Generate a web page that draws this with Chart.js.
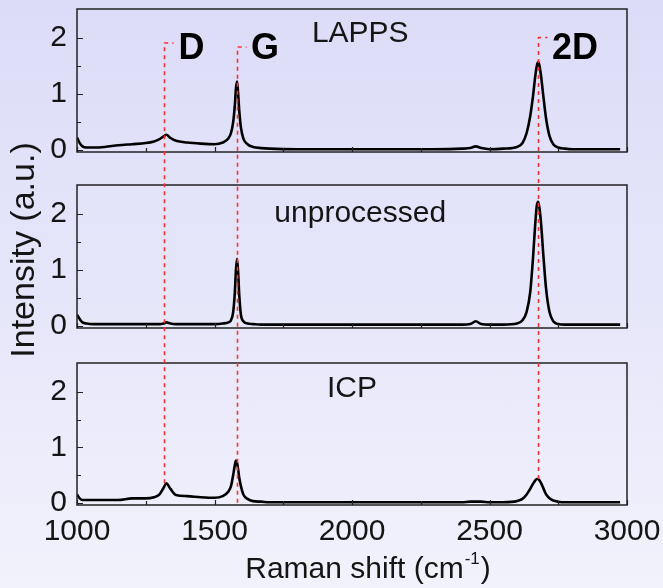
<!DOCTYPE html>
<html>
<head>
<meta charset="utf-8">
<script src="https://cdn.jsdelivr.net/npm/chart.js@4.4.1/dist/chart.umd.min.js"></script>
<style>
  html, body { margin: 0; padding: 0; }
  #wrap {
    position: relative; width: 663px; height: 588px; overflow: hidden;
    background: linear-gradient(to bottom, #dcdcf8 0%, #e6e6fa 50%, #f2f2fc 100%);
  }
  #wrap canvas { position: absolute; left: 0; }
</style>
</head>
<body>
<div id="wrap">
  <canvas id="p0" width="663" height="165" style="top:0px"></canvas>
  <canvas id="p1" width="663" height="165" style="top:176px"></canvas>
  <canvas id="p2" width="663" height="234" style="top:354px"></canvas>
  <canvas id="overlay" width="663" height="588" style="top:0px"></canvas>
</div>
<script>
// Raman shift sampling points (cm-1), denser around the D, G and 2D bands
const shift = [1000, 1010, 1020, 1035, 1060, 1100, 1150, 1200, 1250, 1280,
               1300, 1315, 1325, 1340, 1360, 1400, 1450, 1500, 1530, 1550,
               1560, 1568, 1574, 1578, 1582, 1586, 1590, 1596, 1605, 1620,
               1640, 1670, 1700, 1800, 1900, 2000, 2100, 2200, 2300, 2400,
               2430, 2450, 2470, 2500, 2550, 2600, 2620, 2635, 2648, 2658,
               2666, 2672, 2677, 2682, 2688, 2696, 2706, 2718, 2732, 2750,
               2775, 2800, 2900, 2975];

// Intensities (a.u.) for each sample
const lapps = [0.22, 0.12, 0.06, 0.04, 0.04, 0.05, 0.08, 0.10, 0.12, 0.15,
               0.19, 0.24, 0.27, 0.21, 0.16, 0.13, 0.11, 0.10, 0.13, 0.20,
               0.30, 0.50, 0.80, 1.10, 1.22, 1.00, 0.70, 0.40, 0.20, 0.10,
               0.05, 0.03, 0.02, 0.01, 0.01, 0.01, 0.01, 0.01, 0.01, 0.02,
               0.03, 0.06, 0.03, 0.01, 0.02, 0.05, 0.12, 0.30, 0.60, 0.95,
               1.30, 1.50, 1.57, 1.50, 1.30, 0.95, 0.55, 0.25, 0.10, 0.04,
               0.02, 0.01, 0.01, 0.01];

const unprocessed = [0.20, 0.12, 0.06, 0.04, 0.03, 0.03, 0.03, 0.03, 0.03, 0.03,
                     0.03, 0.04, 0.06, 0.04, 0.03, 0.03, 0.03, 0.03, 0.04, 0.06,
                     0.10, 0.25, 0.60, 1.00, 1.20, 0.95, 0.55, 0.20, 0.08, 0.04,
                     0.03, 0.02, 0.02, 0.02, 0.02, 0.02, 0.02, 0.02, 0.02, 0.02,
                     0.03, 0.08, 0.03, 0.02, 0.02, 0.04, 0.10, 0.25, 0.60, 1.20,
                     1.80, 2.15, 2.22, 2.10, 1.80, 1.25, 0.65, 0.25, 0.08, 0.03,
                     0.02, 0.02, 0.02, 0.02];

const icp = [0.15, 0.08, 0.05, 0.05, 0.05, 0.05, 0.05, 0.08, 0.08, 0.10,
             0.15, 0.27, 0.35, 0.25, 0.14, 0.12, 0.10, 0.09, 0.12, 0.20,
             0.30, 0.50, 0.68, 0.76, 0.72, 0.60, 0.45, 0.30, 0.15, 0.07,
             0.03, 0.02, 0.01, 0.01, 0.01, 0.01, 0.01, 0.01, 0.01, 0.01,
             0.02, 0.02, 0.02, 0.01, 0.01, 0.03, 0.07, 0.15, 0.25, 0.34,
             0.40, 0.43, 0.43, 0.40, 0.35, 0.26, 0.15, 0.08, 0.04, 0.02,
             0.01, 0.01, 0.01, 0.01];

const series = [lapps, unprocessed, icp];
const panelLabels = ['LAPPS', 'unprocessed', 'ICP'];
const panelLabelShift = [2030, 2030, 2000];   // where each sample name sits (cm-1)
const panelLabelLevel = [2.08, 2.00, 2.05];   // and at which intensity

const xTickValues = [1000, 1500, 2000, 2500, 3000];
const xMinorValues = [1250, 1750, 2250, 2750];
const yTickValues = [0, 0.5, 1, 1.5, 2];

// Band assignments marked across all three spectra
const bandNames = ['D', 'G', '2D'];
const bandShift = [1318, 1582, 2676];
const bandMarkTop = [1.91, 1.84, 2.01];     // top of the marker in the LAPPS panel
const bandMarkBottom = [0.35, 0.0, 0.43];   // end of the marker in the ICP panel

const FONT = "'Liberation Sans', Arial, sans-serif";
const INK = '#151515';

const framePlugin = {
  id: 'frame',
  afterDatasetsDraw(chart, args, opts) {
    const { ctx, chartArea: a, scales: { x, y } } = chart;
    ctx.save();
    ctx.strokeStyle = '#222';
    ctx.lineWidth = 1.5;
    ctx.strokeRect(a.left, a.top, a.right - a.left, a.bottom - a.top);
    ctx.beginPath();
    yTickValues.forEach(v => {
      const py = Math.round(y.getPixelForValue(v)) + 0.5;
      const len = Number.isInteger(v) ? 6 : 4;
      ctx.moveTo(a.left, py); ctx.lineTo(a.left + len, py);
    });
    xTickValues.concat(xMinorValues).forEach(v => {
      const px = Math.round(x.getPixelForValue(v)) + 0.5;
      const len = xTickValues.includes(v) ? 5 : 4;
      ctx.moveTo(px, a.bottom); ctx.lineTo(px, a.bottom - len);
    });
    ctx.lineWidth = 1.2;
    ctx.stroke();
    // sample name
    ctx.fillStyle = INK;
    ctx.font = '30px ' + FONT;
    ctx.textAlign = 'center';
    ctx.textBaseline = 'middle';
    ctx.fillText(opts.label, x.getPixelForValue(opts.labelX), y.getPixelForValue(opts.labelY));
    // x-axis title on the bottom panel
    if (opts.showTitle) {
      const cx = (a.left + a.right) / 2 + 16;
      const base = a.bottom + 73;
      ctx.textAlign = 'left';
      ctx.textBaseline = 'alphabetic';
      const main = 'Raman shift (cm';
      ctx.font = '30px ' + FONT;
      const w1 = ctx.measureText(main).width;
      ctx.font = '17px ' + FONT;
      const w2 = ctx.measureText('-1').width;
      ctx.font = '30px ' + FONT;
      const w3 = ctx.measureText(')').width;
      const start = cx - (w1 + w2 + w3 + 2) / 2;
      ctx.fillText(main, start, base);
      ctx.font = '17px ' + FONT;
      ctx.fillText('-1', start + w1 + 1, base - 14);
      ctx.font = '30px ' + FONT;
      ctx.fillText(')', start + w1 + w2 + 2, base);
    }
    ctx.restore();
  }
};

function makePanel(i) {
  const last = i === 2;
  const canvas = document.getElementById('p' + i);
  return new Chart(canvas, {
    type: 'line',
    data: {
      datasets: [{
        data: shift.map((s, k) => ({ x: s, y: series[i][k] })),
        borderColor: '#000',
        borderWidth: 2.6,
        pointRadius: 0,
        cubicInterpolationMode: 'monotone',
        fill: false
      }]
    },
    options: {
      responsive: false,
      animation: false,
      events: [],
      layout: { padding: { top: 9, right: 36, left: 0, bottom: last ? 0 : 13 } },
      plugins: {
        legend: { display: false },
        tooltip: { enabled: false },
        frame: { label: panelLabels[i], labelX: panelLabelShift[i], labelY: panelLabelLevel[i], showTitle: last }
      },
      scales: {
        x: {
          type: 'linear',
          min: 1000, max: 3000,
          display: last,
          afterBuildTicks: s => { s.ticks = xTickValues.map(v => ({ value: v })); },
          afterFit: s => {
            if (last) s.height = 83;
            s.paddingLeft = 0; s.paddingRight = 0;
          },
          grid: { display: true, drawOnChartArea: false, drawTicks: false },
          border: { display: false },
          ticks: {
            color: INK, font: { family: FONT, size: 30 }, padding: 9,
            maxRotation: 0, autoSkip: false, callback: v => String(v)
          }
        },
        y: {
          type: 'linear',
          min: -0.04, max: 2.52,
          afterBuildTicks: s => { s.ticks = yTickValues.map(v => ({ value: v })); },
          afterFit: s => { s.width = 77; s.paddingTop = 0; s.paddingBottom = 0; },
          grid: { display: true, drawOnChartArea: false, drawTicks: false },
          border: { display: false },
          ticks: {
            color: INK, font: { family: FONT, size: 30 }, padding: 10, autoSkip: false,
            callback: v => Number.isInteger(v) ? String(v) : ''
          }
        }
      }
    },
    plugins: [framePlugin]
  });
}

const charts = [0, 1, 2].map(makePanel);
const tops = [0, 176, 354];

// Band markers and the shared y-axis title
function drawOverlay() {
  const ctx = document.getElementById('overlay').getContext('2d');
  ctx.clearRect(0, 0, 663, 588);
  const top = charts[0], bottom = charts[2];
  ctx.save();
  ctx.strokeStyle = '#ff3030';
  ctx.lineWidth = 1.6;
  ctx.setLineDash([4, 4]);
  bandShift.forEach((s, k) => {
    const px = Math.round(top.scales.x.getPixelForValue(s)) + 0.5;
    const y0 = tops[0] + top.scales.y.getPixelForValue(bandMarkTop[k]);
    const y1 = tops[2] + bottom.scales.y.getPixelForValue(bandMarkBottom[k]);
    ctx.beginPath();
    ctx.moveTo(px, y1);
    ctx.lineTo(px, y0);
    ctx.lineTo(px + 9, y0);
    ctx.stroke();
  });
  ctx.setLineDash([]);
  ctx.fillStyle = '#000';
  ctx.font = 'bold 36px ' + FONT;
  ctx.textAlign = 'left';
  ctx.textBaseline = 'middle';
  bandNames.forEach((n, k) => {
    const px = top.scales.x.getPixelForValue(bandShift[k]) + 14;
    const py = tops[0] + top.scales.y.getPixelForValue(1.8);
    ctx.fillText(n, px, py);
  });
  ctx.translate(25, 250);
  ctx.rotate(-Math.PI / 2);
  ctx.font = '34px ' + FONT;
  ctx.fillStyle = INK;
  ctx.textAlign = 'center';
  ctx.textBaseline = 'middle';
  ctx.fillText('Intensity (a.u.)', 0, 0);
  ctx.restore();
}
drawOverlay();
</script>
</body>
</html>
